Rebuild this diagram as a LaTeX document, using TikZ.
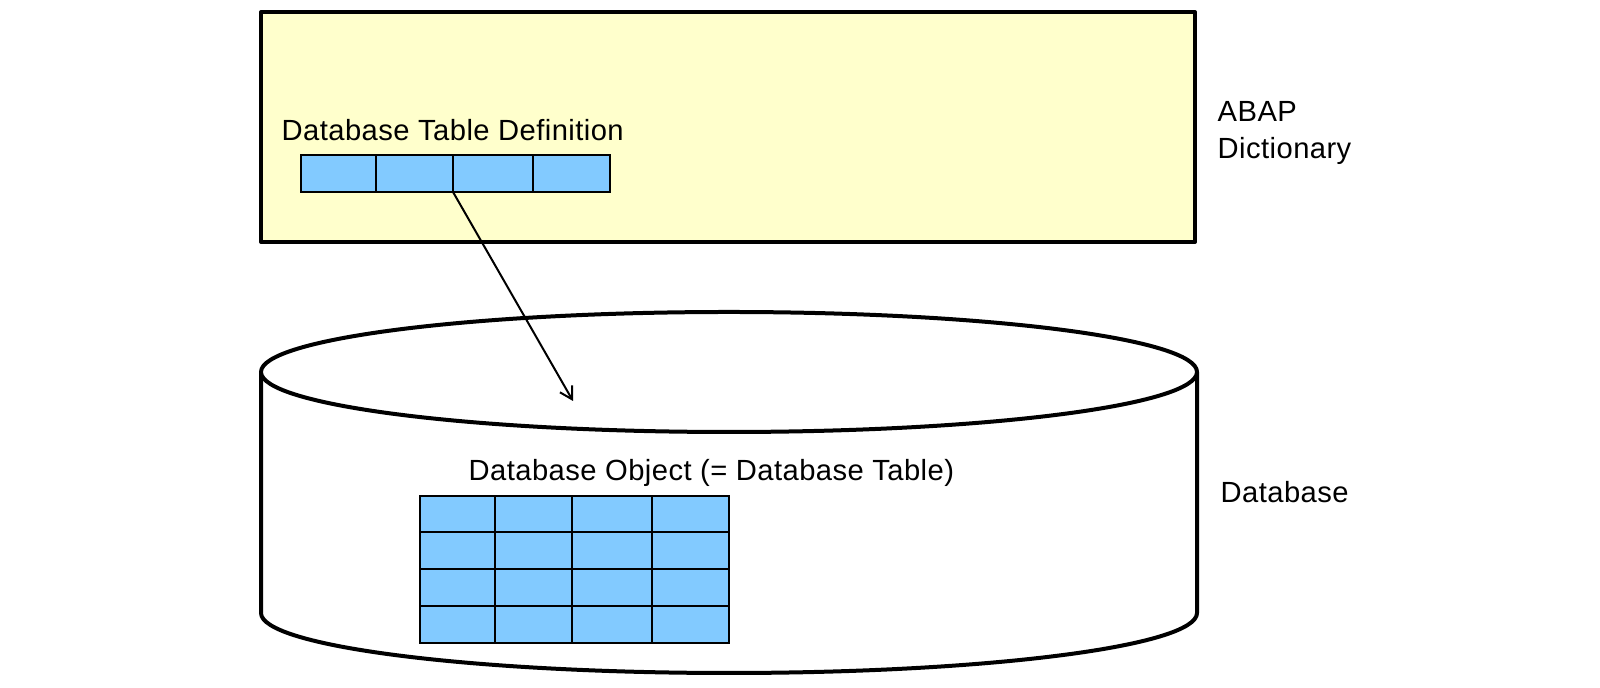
\documentclass[tikz,border=0pt]{standalone}
\usepackage{fontspec}
\setmainfont{Liberation Sans}[LetterSpace=1.5]
\usetikzlibrary{arrows.meta}
\definecolor{dictyellow}{RGB}{255,255,204}
\definecolor{cellblue}{RGB}{130,202,255}
\tikzset{
	boldline/.style={line width=0.04cm, line join=round},
	cell/.style={draw, fill=cellblue, line width=0.015cm},
	txt/.style={font=\fontsize{8.3}{10.6}\selectfont, inner sep=0, anchor=base west, align=left}
}
\begin{document}
\begin{tikzpicture}
		\useasboundingbox (0, 0) rectangle (16, 6.88);
		% ABAP Dictionary
		\draw[boldline, fill=dictyellow] (2.61, 4.46) rectangle (11.95, 6.76);
		\node[txt] (defname) at (2.81, 5.47) {Database Table Definition};
		\foreach \xa/\xb in {3.01/3.76, 3.76/4.53, 4.53/5.33, 5.33/6.10}
			\draw[cell] (\xa, 4.96) rectangle (\xb, 5.33);
		\node[txt] (dictname) at (12.17, 5.29) {ABAP\\Dictionary};
		% Database
		\draw[boldline, fill=white] (2.61, 3.16) -- (2.61, 0.75)
			arc[start angle=180, end angle=360, x radius=4.68, y radius=0.6] -- (11.97, 3.16);
		\draw[boldline, fill=white] (7.29, 3.16) ellipse [x radius=4.68, y radius=0.6];
		\node[txt] (objname) at (4.68, 2.07) {Database Object (= Database Table)};
		\foreach \xa/\xb in {4.20/4.95, 4.95/5.72, 5.72/6.52, 6.52/7.29}
			\foreach \ya/\yb in {0.45/0.82, 0.82/1.19, 1.19/1.56, 1.56/1.92}
				\draw[cell] (\xa, \ya) rectangle (\xb, \yb);
		\node[txt] (dbname) at (12.20, 1.85) {Database};
		% mapping
		\coordinate (defcell) at (4.53, 4.96);
		\coordinate (dbtip) at (5.73, 2.87);
		\draw[line width=0.02cm, -{Straight Barb[length=1.2mm, width=1.4mm]}] (defcell) -- (dbtip);
	\end{tikzpicture}
\end{document}
